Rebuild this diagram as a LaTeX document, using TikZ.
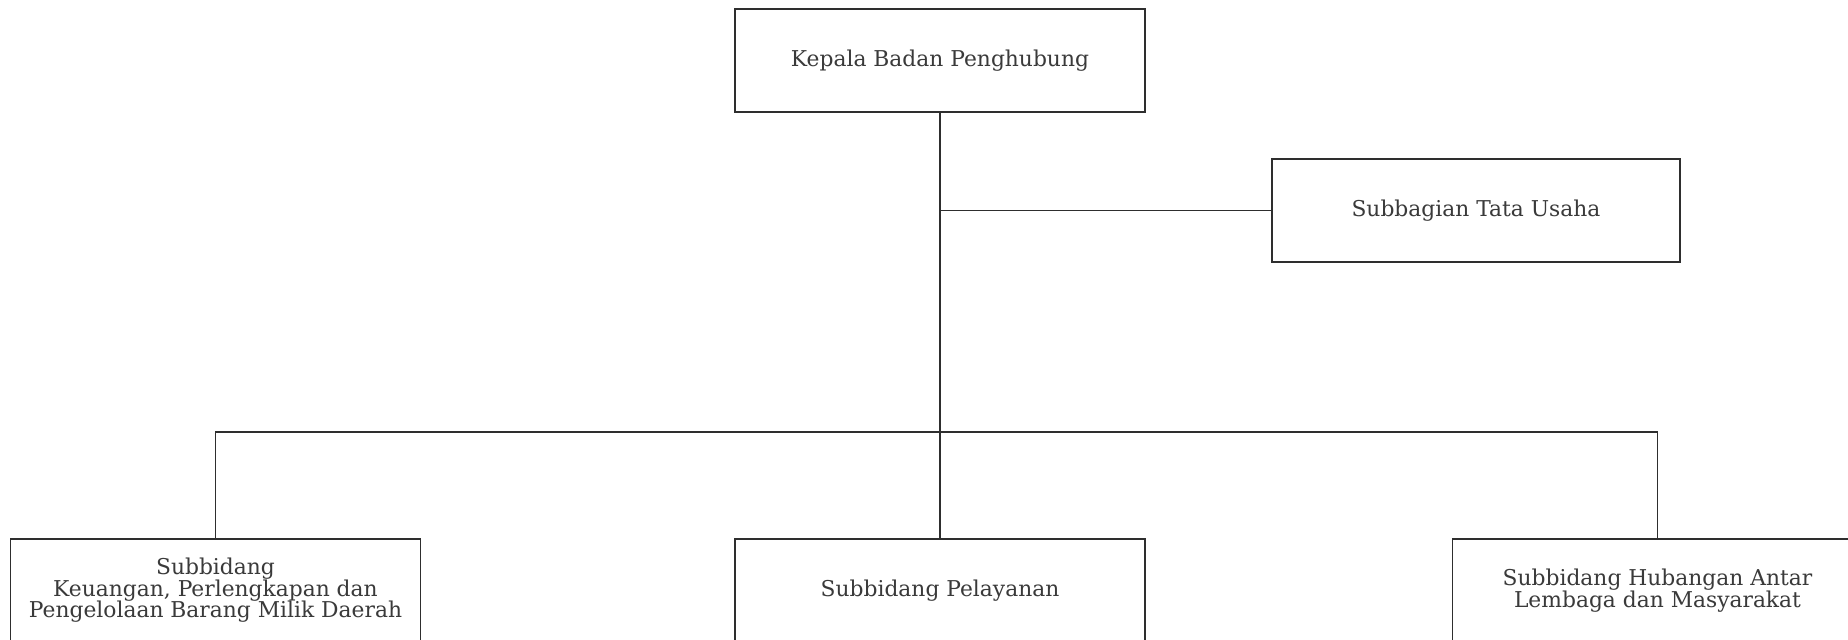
\documentclass[tikz,border=0pt]{standalone}
\usepackage{fontspec}
\setmainfont{DejaVu Serif}
\usepackage{xcolor}
\usetikzlibrary{positioning,calc}
\definecolor{edge}{HTML}{2E2E2E}
\definecolor{ink}{HTML}{3A3A3A}
\tikzset{
  unitbox/.style={
    rectangle, draw=edge, fill=white, line width=1.2pt,
    minimum width=410pt, minimum height=103pt,
    font=\fontsize{21.8}{21.5}\selectfont, text=ink, align=center, inner sep=4pt
  },
  orgline/.style={
    draw=edge, line width=1.3pt
  },
}

\begin{document}
\begin{tikzpicture}[x=1pt, y=-1pt]
  \useasboundingbox (0,0) rectangle (1848,640);

  % Units
  \node[unitbox] (kepala) at (940,60.5) {Kepala Badan Penghubung};
  \node[unitbox, minimum width=408pt] (tu) at (1476,210.5) {Subbagian Tata Usaha};
  \node[unitbox] (keu) at (215.5,590.5) {Subbidang\\Keuangan, Perlengkapan dan\\Pengelolaan Barang Milik Daerah};
  \node[unitbox] (layan) at (940,590.5) {Subbidang Pelayanan};
  \node[unitbox] (humas) at (1657.5,590.5) {Subbidang Hubangan Antar\\Lembaga dan Masyarakat};

  % Lines
  \coordinate (bus) at (940,432);
  \draw[orgline] (kepala.south) -- (bus);
  \draw[orgline] (kepala.south |- tu.west) -- (tu.west);
  \draw[orgline] (keu.north) |- (bus) -| (humas.north);
  \draw[orgline] (bus) -- (layan.north);
\end{tikzpicture}
\end{document}
